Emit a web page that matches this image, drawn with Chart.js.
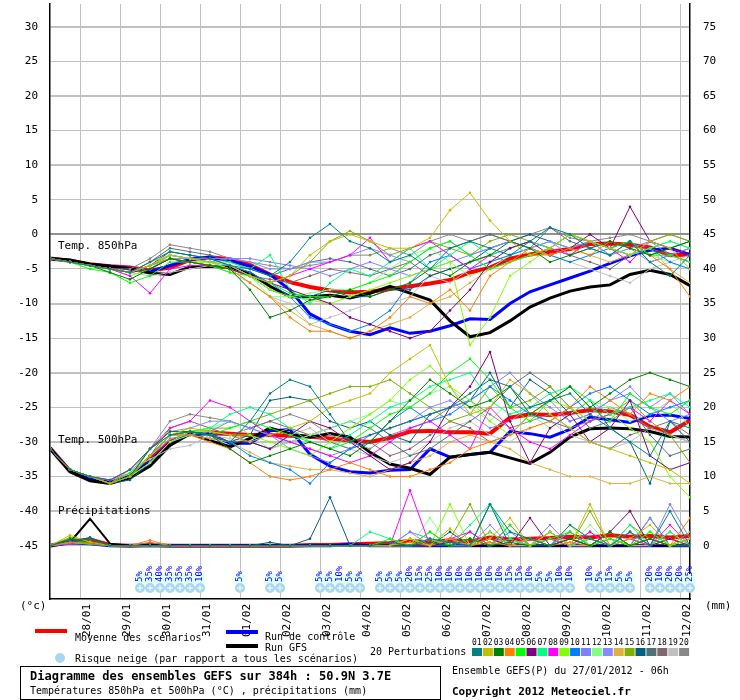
<!DOCTYPE html>
<html>
<head>
<meta charset="utf-8">
<script src="https://cdn.jsdelivr.net/npm/chart.js@4"></script>
<style>
  body { margin: 0; background: #fff; }
  #wrap { width: 740px; height: 700px; }
</style>
</head>
<body>
<div id="wrap"><canvas id="gefsChart" width="740" height="700"></canvas></div>
<script>
const FONT = '"DejaVu Sans Mono", monospace';

// run hours, one value every 12h from 27/01 06h
const hours = [];
for (let h = 0; h <= 384; h += 12) hours.push(h);

const colors = ['#008080', '#c0c000', '#008000', '#ff8000', '#00ff00', '#800080', '#00ff80', '#ff00ff', '#80ff00', '#0080ff',
  '#8080ff', '#80ff80', '#8888ff', '#e0b040', '#80b000', '#006080', '#507078', '#806870', '#c0c0c0', '#888888'];

const t850 = [
  [-3.5,-4,-4.5,-5,-5.5,-4,-2.5,-3,-3.5,-4.5,-5,-6,-4,-0.5,1.5,-1,-2,-4,-3,-5,-2,-1,-2,-3,-1,1,0,-2,-3,-1,-4,-6,-3],
  [-3.5,-4,-4.5,-5,-5.5,-4.5,-3,-3.5,-4,-4.5,-6,-7,-6,-3,-1,0,-1,-2,-2,-0.5,3.5,6,2,-1,-3,-2,0,-1,-2,-3,-1,-2,-5],
  [-3.5,-4,-4.5,-5.5,-6.5,-5,-3.5,-4,-4.5,-5,-8,-12,-11,-9.5,-9,-8,-9,-8,-7,-5,-6,-4,-3,-1,-2,-4,-3,-2,-1,-2,-3,-2,-1],
  [-3.5,-4,-4.5,-5,-5.5,-4.5,-3.5,-4,-4.5,-5,-7,-9,-12,-14,-14,-15,-14,-12,-9,-10,-8,-11,-6,-4,-2,-3,-2,-3,-1,-2,-3,-5,-9],
  [-3.5,-4,-5,-5.5,-7,-6,-4,-4,-4.5,-5.5,-6,-7,-8.5,-9,-9,-8,-7,-6,-4,-2,-1,-3,-5,-4,-3,-2,0,-1,-2,-1,-3,-3,-4],
  [-3.5,-4,-4.5,-5,-5.5,-5,-3.5,-4,-4.5,-5,-6,-7,-8,-9,-10,-12,-13,-14,-15,-14,-11,-8,-4,-2,-1,-3,-2,0,-2,4,-1,-2,-3],
  [-3.5,-4,-4.5,-5,-5.5,-5,-3,-3.5,-4,-4,-5,-3,-8,-10,-7,-5,-6,-4,-2,-5,-3,-1,-3,-2,-1,-2,0,-1,-2,-3,-2,-1,-2],
  [-3.5,-4,-4.5,-5,-6,-8.5,-5,-4.5,-4.5,-5,-6,-7,-6,-5,-4,-3,-0.5,-4,-2,-1,-3,-5,-3,-2,-1,-2,-3,-1,-2,-4,-1,-2,-3],
  [-3.5,-4,-4.5,-5,-6,-5,-3.5,-4,-4,-5,-6,-8,-9,-9.5,-10,-9,-8,-7,-6,-5,-4,-16,-12,-6,-4,-2,-3,-1,-2,-3,-2,-1,-2],
  [-3.5,-4,-4.5,-5,-5.5,-4.5,-3.5,-4,-4.5,-4.5,-5.5,-7,-9,-12,-13,-14,-13,-11,-7,-4,-3,-5,-4,-3,-2,-3,-4,-3,-2,-3,-2,-4,-5],
  [-3.5,-4,-4.5,-5,-5.5,-4.5,-3,-3.5,-4,-3.5,-3.5,-4,-4.5,-5,-6,-5,-4,-5,-6,-5,-4,-3,-2,-1,-2,-1,-2,-1,-3,-2,-1,-3,-4],
  [-3.5,-4,-4.5,-5,-5.5,-5,-3.5,-4,-4,-4.5,-6,-9,-9,-8.5,-8,-8,-7,-5,-3,-2,-4,-6,-5,-3,-2,-1,-2,-1,-3,-2,-3,-4,-5],
  [-3.5,-4,-4.5,-5,-5.5,-5,-3.5,-3.5,-3.5,-3.5,-4,-5,-5,-4,-4,-3,-2,-3,-4,-2,-1,-3,-2,-1,-2,-1,-3,-2,-1,-2,-4,-3,-2],
  [-3.5,-4,-4.5,-5,-5.5,-4,-3,-3.5,-4,-5,-7,-9,-11,-13,-14,-15,-14,-13,-12,-10,-9,-7,-5,-4,-3,-3,-2,-3,-4,-3,-2,-5,-7],
  [-3.5,-4,-4.5,-5,-5.5,-4.5,-3,-3.5,-4,-5,-6,-7,-6,-4,-1,0.5,-1,-3,-2,-1,-2,-3,-1,0,-1,-2,0,-1,-2,-3,-1,0,-1],
  [-3.5,-4,-4.5,-5,-5.5,-4.5,-2.5,-3,-3.5,-4.5,-6,-8,-9,-9,-8,-9,-9,-8,-8,-6,-5,-4,-2,-1,0,-1,-2,-1,-2,-1,-3,-2,-1],
  [-3.5,-4,-4.5,-5,-5.5,-4,-2,-2.5,-3,-4,-5,-6,-5,-4,-3.5,-4,-5,-6,-5,-3,-2,-1,0,-1,-2,1,-1,-2,-3,-1,-4,-3,-4],
  [-3.5,-4,-4.5,-5,-5.5,-5,-3.5,-4,-4.5,-5,-6,-6.5,-7,-6,-5,-5.5,-6,-5,-4,-6,-5,-4,-3,-4,-3,-2,-3,-4,-5,-3,-2,-3,-2],
  [-3.5,-4,-4.5,-5,-5.5,-6,-5.5,-5,-4.5,-5.5,-7,-9,-10,-13,-12,-11,-10,-10,-9,-6,-7,-5,-4,-3,-2,-3,-4,-5,-6,-7,-5,-4,-3],
  [-3.5,-4,-4.5,-5,-5,-3.5,-1.5,-2,-2.5,-3.5,-4,-4.5,-5,-4.5,-4,-3,-3,-2,-3,-1,0,-1,0,-1,0,1,-0.5,-1,-0.5,0,-1,0,-1]
];

const t500 = [
  [-31,-34,-35,-35.5,-34,-31,-29,-28.5,-29,-30,-27,-23,-21,-22,-26,-30,-29,-28,-27,-26,-25,-23,-21,-22,-25,-24,-23,-26,-28,-30,-32,-27,-28],
  [-31,-34,-35,-36,-35,-32,-29,-28,-28.5,-29,-30,-29,-28,-27,-25,-24,-23,-20,-18,-16,-22,-26,-25,-21,-23,-26,-28,-30,-31,-32,-33,-34,-36],
  [-31,-34,-35,-36,-35,-31,-28.5,-28.5,-29,-31,-33,-32,-31,-30,-31,-32,-30,-27,-24,-21,-23,-25,-24,-22,-26,-24,-22,-25,-23,-21,-20,-21,-22],
  [-31,-34,-35,-36,-34,-31,-29,-29,-30,-31,-33,-35,-35.5,-35,-34,-33,-34,-35,-35,-34,-33,-31,-30,-29,-28,-27,-25,-22,-24,-26,-23,-24,-22],
  [-31,-34,-35,-36,-34.5,-32,-29,-28.5,-29,-28,-27,-28,-29,-30,-31,-30,-28,-26,-25,-23,-20,-18,-21,-25,-27,-24,-22,-25,-27,-23,-25,-26,-24],
  [-31,-34,-35,-36,-35,-32,-29,-28.5,-29,-29,-30,-31,-29,-27,-28,-30,-32,-34,-33,-30,-25,-22,-17,-27,-33,-28,-26,-30,-28,-24,-32,-34,-33],
  [-31,-34,-35,-36,-35,-32,-29,-28.5,-28,-26,-25,-26,-28,-30,-31,-29,-27,-25,-24,-22,-21,-20,-24,-26,-25,-23,-22,-24,-26,-25,-24,-23,-25],
  [-31,-34,-35,-35.5,-34,-31,-28,-27,-24,-25,-27,-29,-30,-31,-32,-33,-32,-30,-28,-27,-29,-31,-25,-28,-30,-31,-29,-27,-26,-25,-27,-24,-26],
  [-31,-34,-35,-36,-35,-33,-30,-28.5,-28.5,-29,-29,-30,-31,-32,-30,-28,-26,-24,-21,-19,-22,-24,-27,-29,-26,-24,-25,-27,-26,-28,-30,-35,-38],
  [-31,-34,-35,-36,-35,-32,-29,-28.5,-29,-30,-32,-33,-34,-36,-33,-31,-30,-27,-25,-27,-26,-24,-22,-24,-26,-27,-25,-23,-22,-24,-26,-25,-24],
  [-31,-34,-35,-36,-35,-32,-29.5,-29,-28.5,-27,-28,-29,-30,-31,-32,-31,-29,-28,-27,-26,-25,-24,-22,-20,-23,-25,-27,-26,-24,-22,-25,-23,-26],
  [-31,-34,-35,-36,-35,-33,-30,-29,-28,-27,-29,-31,-30,-29,-28,-27,-26,-24,-25,-23,-22,-25,-27,-24,-26,-28,-26,-24,-25,-27,-26,-24,-28],
  [-31,-34,-35,-35.5,-34.5,-31,-28.5,-28,-27,-27,-28,-29,-31,-32,-33,-31,-29,-28,-27,-25,-24,-26,-28,-27,-25,-24,-27,-26,-24,-23,-25,-27,-26],
  [-31,-34,-35,-36,-35,-32,-29,-29,-29.5,-30,-31.5,-33,-33.5,-34,-34,-34.5,-35,-34,-33,-32,-30,-29,-30,-31,-33,-34,-35,-35,-36,-36,-35,-36,-36],
  [-31,-34,-35,-36,-35,-32,-29,-28.5,-28,-28,-27,-26,-25,-24,-23,-22,-22,-21,-23,-25,-27,-26,-22,-25,-24,-22,-25,-27,-26,-24,-27,-29,-33],
  [-31,-34,-35,-36,-35.5,-33,-30,-29,-29,-30,-29,-24,-23.5,-24,-27,-28,-27,-29,-30,-26,-25,-24,-20,-25,-21,-23,-26,-24,-28,-30,-36,-27,-30],
  [-31,-34,-35,-36,-35,-32,-29,-29,-29.5,-30,-30,-31,-30,-29,-28,-27,-28,-30,-32,-31,-29,-27,-25,-22,-20,-22,-25,-28,-27,-25,-29,-32,-31],
  [-31,-34,-35,-36,-35,-32,-28,-27,-28,-29,-28,-27,-28,-29,-30,-31,-30,-32,-31,-29,-27,-28,-30,-29,-26,-27,-28,-30,-31,-29,-28,-27,-29],
  [-31,-34,-35,-35.5,-34,-32.5,-31,-30.5,-29,-29.5,-30,-31,-29,-28,-30,-31,-32,-33,-32,-30,-28,-27,-29,-30,-28,-27,-29,-30,-31,-30,-28,-29,-30],
  [-31,-34,-35,-36,-35,-31,-27,-26,-26.5,-27,-28,-27,-26,-27,-29,-30,-31,-29,-28,-27,-25,-24,-26,-28,-27,-26,-28,-27,-25,-26,-28,-29,-30]
];

const precip = [
  [0,0.8,1,0,0,0,0,0,0,0,0,0,0,0,0,0,0,0.5,0,1,0.5,0,6,2,1,0,3,1,0,2,0,5,0],
  [0,1.5,0.5,0,0,0,0,0,0,0,0,0,0,0,0,0,0,0,1,0,2.5,0,1,4,0,2,0,6,0,1,3,0,1],
  [0,1,0.5,0,0,0,0,0,0,0,0,0,0,0,0,0,0,0,0,0.5,0,1,0,0.5,0,0,1,0,2,0,1,0,0],
  [0,0.5,0.3,0,0,0.8,0,0,0,0,0,0,0,0,0,0,0,0,0.5,0,1,0,0.5,0,1,0,0.5,0,2,0,1,0,4],
  [0,0.5,0.5,0,0,0,0,0,0,0,0,0,0,0,0,0,0,1,0,2,0,1,0,3,0,1,2,0,1,0,2,0,1],
  [0,0.7,0.3,0,0,0,0,0,0,0,0,0,0,0,0,0,0,0,0,0,0.5,0,1,0,4,0,1,0,2,5,0,1,0],
  [0,0.5,0.2,0,0,0,0,0,0,0,0,0,0,0,0,0,2,1,0,1,0,3,6,1,0,2,0,1,0,3,0,2,0],
  [0,0.3,0.5,0,0,0,0,0,0,0,0,0,0,0,0,0,0,0,8,0,1,2,0,3,0,1,0,2,0,1,0,3,0],
  [0,0.5,0.5,0,0,0,0,0,0,0,0,0,0,0,0,0,0,0,1,0,6,0,2,0,1,0,3,0,1,0,2,0,1],
  [0,0.5,0.5,0,0,0,0,0,0,0,0,0,0,0,0,0,0,0,0,0,0,0,2,0,1,0,1,0,2,0,1,0,0],
  [0,0.5,0.5,0,0,0,0,0,0,0,0,0,0,0,0,0,0,0,2,1,0,1,0,2,0,3,0,1,0,2,0,6,1],
  [0,0.4,0.5,0,0,0,0,0,0,0,0,0,0,0,0,0,0,0,0,4,0,1,0,2,0,1,0,3,0,1,0,2,0],
  [0,0.5,0.3,0,0,0,0,0,0,0,0,0,0,0,0,0,0,0,2,0,1,0,3,0,1,0,2,0,1,0,4,0,1],
  [0,0.5,0.4,0,0,0,0,0,0,0,0,0,0,0,0,0,0,0,0,1,0,0,1,0,0,2,0,0,1,0,0,1,0],
  [0,1.2,0.6,0,0,0,0,0,0,0,0,0,0,0,0,0,0,0,0,0,1,6,0,1,0,2,0,5,0,3,1,0,2],
  [0,0.5,1.2,0,0,0,0,0,0,0,0,0.5,0,1,7,0,0,0,1,0,2,0,6,0,1,0,2,0,1,0,4,0,1],
  [0,0.5,0.5,0,0,0,0,0,0,0,0,0,0,0,0,0,0,0,0,1,0,2,0,1,0,2,0,1,0,2,0,1,0],
  [0,0.5,0.5,0,0,0,0,0,0,0,0,0,0,0,0,0,0,0,0,0,1,0,2,0,1,0,1,0,2,0,1,0,0],
  [0,0.3,0.3,0,0,0,0,0,0,0,0,0,0,0,0,0,0,0,0,1,0,0,1,0,0,1,0,0,2,0,0,1,0],
  [0,0.5,0.5,0,0,0.5,0,0,0,0,0,0,0,0,0,0,0,0,0,2,0,1,0,3,0,1,0,2,0,1,0,2,0]
];

const mean850 = [-3.5,-3.8,-4.3,-4.6,-4.8,-5.2,-4.8,-3.7,-3.3,-3.6,-4.4,-5.8,-6.9,-7.6,-8.1,-8.4,-8.3,-7.9,-7.5,-7.1,-6.6,-5.5,-4.8,-3.5,-2.9,-2.5,-2.1,-1.4,-1.3,-1.5,-1.9,-3.0,-2.9];
const ctrl850 = [-3.5,-3.8,-4.3,-4.6,-4.9,-5.4,-4.5,-3.6,-3.3,-3.8,-4.6,-5.8,-8,-11.5,-13,-14,-14.5,-13.5,-14.3,-14,-13.2,-12.2,-12.3,-10,-8.3,-7.3,-6.3,-5.3,-4.2,-3.1,-2.3,-2,-2.9];
const gfs850 = [-3.5,-3.7,-4.3,-4.6,-5,-5.6,-5.8,-4.7,-4.6,-4.8,-5.6,-7.5,-9,-9,-8.8,-9.2,-8.5,-7.5,-8.5,-9.5,-12.5,-14.8,-14.2,-12.5,-10.5,-9.2,-8.2,-7.6,-7.3,-5.8,-5.2,-5.8,-7.4];
const mean500 = [-30.9,-34.2,-35.4,-35.9,-35,-32.5,-30,-28.8,-28.6,-28.8,-29,-29,-29.1,-29.2,-29.5,-29.8,-30,-29.4,-28.5,-28.4,-28.6,-28.6,-28.8,-26.5,-26,-26.1,-25.8,-25.4,-25.6,-26.1,-27.8,-28.6,-26.9];
const ctrl500 = [-30.9,-34.2,-35.4,-35.9,-35,-32.8,-30.2,-28.8,-28.8,-30.2,-30.2,-28.4,-28.2,-31.8,-33.5,-34.3,-34.5,-34.1,-34,-31,-32.2,-31.8,-31.5,-28.5,-28.8,-29.3,-28.2,-26.4,-26.8,-27.2,-26.2,-26.1,-26.6];
const gfs500 = [-30.9,-34.3,-35.6,-36,-35.2,-33.5,-30.5,-28.8,-29.8,-30.7,-29.5,-28,-28.8,-29.3,-28.8,-29.3,-31.5,-33.2,-33.8,-34.7,-32.2,-31.8,-31.5,-32.3,-33.1,-31.5,-29.3,-28.1,-28,-28.1,-28.5,-29.2,-29.3];
const meanPr = [0,0.6,0.9,0.1,0,0.1,0,0,0,0,0,0,0,0.1,0.1,0.2,0.3,0.4,0.7,0.5,0.8,0.6,1.2,0.9,1.0,1.1,1.3,1.2,1.5,1.3,1.4,1.2,1.4];
const ctrlPr = [0,0.4,0.3,0,0,0,0,0,0,0,0,0,0,0,0,0.2,0,0,0,0,0,0,0,0,0,0,0,0,0,0,0,0,0];
const gfsPr = [0,0.5,3.9,0.3,0,0.1,0,0,0,0,0,0,0,0,0,0,0,0,0,0,0,0,0,0,0,0,0,0,0,0,0,0,0];

// snow risk: [hour, % of members]
const snow = [[54,5],[60,35],[66,40],[72,35],[78,35],[84,35],[90,10],[114,5],[132,5],[138,5],
  [162,5],[168,5],[174,10],[180,5],[186,5],
  [198,5],[204,5],[210,5],[216,20],[222,15],[228,25],[234,10],[240,10],[246,10],[252,10],[258,10],[264,10],[270,10],
  [276,15],[282,15],[288,10],[294,5],[300,5],[306,10],[312,10],
  [324,10],[330,5],[336,15],[342,5],[348,5],[360,20],[366,10],[372,20],[378,20],[384,25]];

const days = ['28/01','29/01','30/01','31/01','01/02','02/02','03/02','04/02','05/02','06/02','07/02','08/02','09/02','10/02','11/02','12/02'];

const pts = arr => arr.map((v, i) => ({ x: hours[i], y: v }));

const member = (arr, i, axis) => ({
  data: pts(arr), borderColor: colors[i], backgroundColor: colors[i],
  borderWidth: 1, pointRadius: 1.3, pointBorderWidth: 0, yAxisID: axis
});
const main = (arr, color, w, axis) => ({
  data: pts(arr), borderColor: color, borderWidth: w, pointRadius: 0, yAxisID: axis
});

const datasets = [];
t850.forEach((a, i) => datasets.push(member(a, i, 'y')));
t500.forEach((a, i) => datasets.push(member(a, i, 'y')));
precip.forEach((a, i) => datasets.push(member(a, i, 'y2')));
datasets.push(main(gfs850, '#000000', 3, 'y'), main(gfs500, '#000000', 3, 'y'), main(gfsPr, '#000000', 2, 'y2'));
datasets.push(main(ctrl850, '#0000ff', 3, 'y'), main(ctrl500, '#0000ff', 3, 'y'), main(ctrlPr, '#0000ff', 3, 'y2'));
datasets.push(main(mean850, '#ff0000', 4, 'y'), main(mean500, '#ff0000', 4, 'y'), main(meanPr, '#ff0000', 4, 'y2'));

const extras = {
  id: 'extras',
  afterDatasetsDraw(chart) {
    const { ctx } = chart;
    const xs = chart.scales.x, ys = chart.scales.y, ys2 = chart.scales.y2;
    ctx.save();
    ctx.fillStyle = '#000';
    ctx.font = '11px ' + FONT;
    ctx.textBaseline = 'middle';

    // axis tick labels
    ctx.textAlign = 'right';
    for (let v = -45; v <= 30; v += 5) ctx.fillText(String(v), 38, ys.getPixelForValue(v));
    ctx.textAlign = 'left';
    for (let v = 0; v <= 75; v += 5) ctx.fillText(String(v), 703, ys2.getPixelForValue(v));

    ctx.fillText('Temp. 850hPa', 58, ys.getPixelForValue(-1.7));
    ctx.fillText('Temp. 500hPa', 58, ys.getPixelForValue(-29.8));
    ctx.fillText('Précipitations', 58, ys.getPixelForValue(-40));

    // snow risk markers
    snow.forEach(([h, p]) => {
      const x = xs.getPixelForValue(h);
      ctx.fillStyle = '#e0ffff';
      ctx.fillRect(x - 5, 574, 10, 10);
      ctx.fillStyle = '#a8d8f0';
      ctx.beginPath(); ctx.arc(x, 588, 5, 0, Math.PI * 2); ctx.fill();
      ctx.strokeStyle = '#ffffff'; ctx.lineWidth = 1;
      ctx.beginPath();
      ctx.moveTo(x - 3, 588); ctx.lineTo(x + 3, 588);
      ctx.moveTo(x, 585); ctx.lineTo(x, 591);
      ctx.stroke();
      ctx.save();
      ctx.translate(x, 582);
      ctx.rotate(-Math.PI / 2);
      ctx.fillStyle = '#0000ff';
      ctx.font = '9px ' + FONT;
      ctx.textAlign = 'left';
      ctx.fillText(p + '%', 0, 0);
      ctx.restore();
    });

    // day labels
    ctx.fillStyle = '#000';
    ctx.font = '11px ' + FONT;
    days.forEach((d, k) => {
      const x = xs.getPixelForValue(18 + 24 * k) + 7;
      ctx.save();
      ctx.translate(x, 604);
      ctx.rotate(-Math.PI / 2);
      ctx.textAlign = 'right';
      ctx.fillText(d, 0, 0);
      ctx.restore();
    });
    ctx.textAlign = 'left';
    ctx.fillText('(°c)', 20, 606);
    ctx.fillText('(mm)', 705, 606);

    // legend
    ctx.fillStyle = '#ff0000'; ctx.fillRect(35, 629, 32, 4);
    ctx.fillStyle = '#0000ff'; ctx.fillRect(226, 630, 32, 4);
    ctx.fillStyle = '#000000'; ctx.fillRect(226, 644, 32, 4);
    ctx.font = '10px ' + FONT;
    ctx.fillText('Moyenne des scénarios', 75, 638);
    ctx.fillText('Run de contrôle', 265, 637);
    ctx.fillText('Run GFS', 265, 648);
    ctx.fillText('Risque neige (par rapport a tous les scénarios)', 75, 659);
    ctx.fillText('20 Perturbations', 370, 652);
    ctx.fillStyle = '#a8d8f0';
    ctx.beginPath(); ctx.arc(60, 658, 5, 0, Math.PI * 2); ctx.fill();
    ctx.font = '8px ' + FONT;
    colors.forEach((c, i) => {
      const x = 472 + i * 10.9;
      ctx.fillStyle = c;
      ctx.fillRect(x, 648, 10, 8);
      ctx.fillStyle = '#000';
      ctx.fillText(String(i + 1).padStart(2, '0'), x, 643);
    });

    ctx.strokeStyle = '#000'; ctx.lineWidth = 1;
    ctx.strokeRect(20.5, 666.5, 420, 33);
    ctx.font = 'bold 12px ' + FONT;
    ctx.fillText('Diagramme des ensembles GEFS sur 384h : 50.9N 3.7E', 30, 677);
    ctx.font = '10px ' + FONT;
    ctx.fillText('Températures 850hPa et 500hPa (°C) , précipitations (mm)', 30, 691);
    ctx.fillText('Ensemble GEFS(P) du 27/01/2012 - 06h', 452, 671);
    ctx.font = 'bold 11px ' + FONT;
    ctx.fillText('Copyright 2012 Meteociel.fr', 452, 692);
    ctx.restore();
  }
};

const tickList = (lo, hi) => { const t = []; for (let v = lo; v <= hi; v += 5) t.push({ value: v }); return t; };

new Chart(document.getElementById('gefsChart'), {
  type: 'line',
  data: { datasets },
  plugins: [extras],
  options: {
    responsive: false,
    devicePixelRatio: 1,
    animation: false,
    layout: { padding: 0 },
    plugins: { legend: { display: false }, tooltip: { enabled: false } },
    elements: { line: { tension: 0 } },
    scales: {
      x: {
        type: 'linear', min: 0, max: 384,
        afterBuildTicks: s => { s.ticks = days.map((d, k) => ({ value: 18 + 24 * k })); },
        afterFit: s => { s.height = 101; },
        ticks: { display: false },
        grid: { color: '#c0c0c0', drawTicks: false },
        border: { color: '#000', width: 1.5 }
      },
      y: {
        min: -52.7, max: 33.3,
        afterBuildTicks: s => { s.ticks = tickList(-45, 30); },
        afterFit: s => { s.width = 50; },
        ticks: { display: false },
        grid: {
          drawTicks: false,
          color: c => c.tick.value === 0 ? '#909090' : '#c0c0c0',
          lineWidth: c => c.tick.value % 10 === 0 ? 2 : 1
        },
        border: { color: '#000', width: 1.5 }
      },
      y2: {
        position: 'right', min: -7.7, max: 78.3,
        afterBuildTicks: s => { s.ticks = tickList(0, 75); },
        afterFit: s => { s.width = 50; },
        ticks: { display: false },
        grid: { display: false, drawTicks: false },
        border: { color: '#000', width: 1.5 }
      }
    }
  }
});
</script>
</body>
</html>
